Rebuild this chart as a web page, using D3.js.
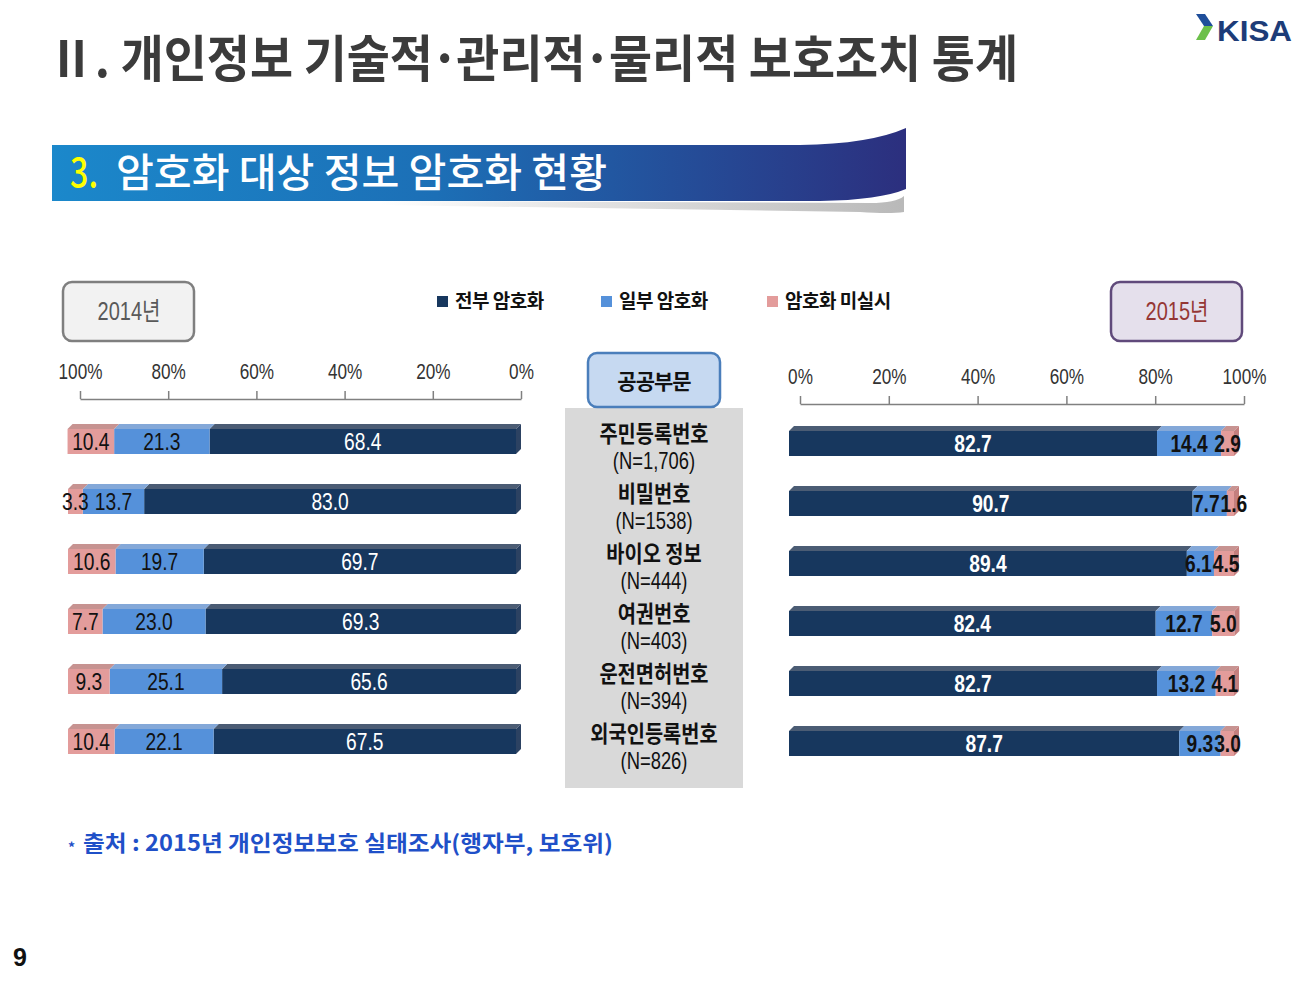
<!DOCTYPE html>
<meta charset="utf-8">
<style>
body { margin: 0; background: #fff; }
svg { display: block; }
.kr { font-family: 'Noto Sans CJK KR', 'Noto Sans', sans-serif; }
.nr { font-family: 'Liberation Sans', Arial, 'Noto Sans CJK KR', sans-serif; }
</style>
<body>
<script src="https://cdnjs.cloudflare.com/ajax/libs/d3/7.8.5/d3.min.js"></script>
<script>
// 공공부문 암호화 현황 (2014 vs 2015)
var categories = ["주민등록번호", "비밀번호", "바이오 정보", "여권번호", "운전면허번호", "외국인등록번호"];
var sampleSizes = ["(N=1,706)", "(N=1538)", "(N=444)", "(N=403)", "(N=394)", "(N=826)"];
var seriesNames = ["전부 암호화", "일부 암호화", "암호화 미실시"];
var full2014    = [68.4, 83.0, 69.7, 69.3, 65.6, 67.5];
var partial2014 = [21.3, 13.7, 19.7, 23.0, 25.1, 22.1];
var none2014    = [10.4, 3.3, 10.6, 7.7, 9.3, 10.4];
var full2015    = [82.7, 90.7, 89.4, 82.4, 82.7, 87.7];
var partial2015 = [14.4, 7.7, 6.1, 12.7, 13.2, 9.3];
var none2015    = [2.9, 1.6, 4.5, 5.0, 4.1, 3.0];
var tickValues  = [0, 20, 40, 60, 80, 100];

var keys = ["full", "partial", "none"];
var colors = {
    full:    {front: "#17375e", top: "#4b5c74", side: "#2c4262", text: "#ffffff"},
    partial: {front: "#5591da", top: "#84a8d8", side: "#4a7fc0", text: "#111111"},
    none:    {front: "#e39c9b", top: "#c79391", side: "#c47f7e", text: "#111111"}
};
var BAR_H = 30, DEPTH = 5, SQUEEZE = 0.8;

var svg = d3.select("body").append("svg").attr("width", 1312).attr("height", 981);

// ---- header ----
svg.append("text").attr("class", "kr")
    .attr("x", 48).attr("y", 77)
    .attr("font-size", 50).attr("font-weight", 700).attr("fill", "#3b3b3b")
    .attr("textLength", 970).attr("lengthAdjust", "spacingAndGlyphs")
    .text("Ⅱ. 개인정보 기술적･관리적･물리적 보호조치 통계");

// KISA logo
var logo = svg.append("g");
logo.append("path").attr("d", "M1196,14 L1205,14 L1213,26 L1204,26 Z").attr("fill", "#1f4e9a");
logo.append("path").attr("d", "M1204,26 L1213,26 L1205,40 L1196,40 Z").attr("fill", "#6cc04a");
logo.append("text").attr("class", "nr").attr("x", 1217).attr("y", 41)
    .attr("font-size", 30).attr("font-weight", 700).attr("fill", "#1d3c78")
    .attr("textLength", 75).attr("lengthAdjust", "spacingAndGlyphs").text("KISA");

// banner
var defs = svg.append("defs");
var grad = defs.append("linearGradient").attr("id", "bannerGrad");
grad.append("stop").attr("offset", "0%").attr("stop-color", "#1b88cb");
grad.append("stop").attr("offset", "45%").attr("stop-color", "#1c6fb6");
grad.append("stop").attr("offset", "100%").attr("stop-color", "#2c2f7e");
var shadow = defs.append("linearGradient").attr("id", "shadowGrad");
shadow.append("stop").attr("offset", "0%").attr("stop-color", "#ffffff");
shadow.append("stop").attr("offset", "100%").attr("stop-color", "#8a8a8a");

svg.append("path")
    .attr("d", "M380,201 L870,203 Q896,203 904,196 L904,212 Q890,214 860,212 L380,205 Z")
    .attr("fill", "url(#shadowGrad)").attr("opacity", 0.6);
svg.append("path")
    .attr("d", "M52,145 L800,145 Q870,144 906,128 L906,189 Q880,200 820,201 L52,201 Z")
    .attr("fill", "url(#bannerGrad)");
svg.append("text").attr("class", "kr").attr("x", 70).attr("y", 187)
    .attr("font-size", 40).attr("font-weight", 500).attr("fill", "#ffff00")
    .attr("textLength", 28).attr("lengthAdjust", "spacingAndGlyphs").text("3.");
svg.append("text").attr("class", "kr").attr("x", 116).attr("y", 187)
    .attr("font-size", 40).attr("font-weight", 500).attr("fill", "#ffffff")
    .attr("textLength", 491).attr("lengthAdjust", "spacingAndGlyphs").text("암호화 대상 정보 암호화 현황");

// ---- year boxes ----
function yearBox(x, label, fill, stroke, color) {
    svg.append("rect").attr("x", x).attr("y", 282).attr("width", 131).attr("height", 59)
        .attr("rx", 9).attr("fill", fill).attr("stroke", stroke).attr("stroke-width", 2.5);
    svg.append("text").attr("class", "nr")
        .attr("transform", "translate(" + (x + 66) + ",320) scale(" + SQUEEZE + ",1)")
        .attr("text-anchor", "middle").attr("font-size", 25).attr("fill", color)
        .text(label);
}
yearBox(63, "2014년", "#f2f2f2", "#7f7f7f", "#595959");
yearBox(1111, "2015년", "#e5e0ec", "#604a7b", "#953735");

// ---- legend ----
var legendX = d3.scaleOrdinal().domain(keys).range([437, 601, 767]);
var legend = svg.append("g").selectAll("g").data(keys).join("g")
    .attr("transform", function(d) { return "translate(" + legendX(d) + ",296)"; });
legend.append("rect").attr("width", 11).attr("height", 11)
    .attr("fill", function(d) { return colors[d].front; });
legend.append("text").attr("class", "kr").attr("x", 18).attr("y", 12)
    .attr("font-size", 19).attr("font-weight", 700).attr("fill", "#111")
    .attr("letter-spacing", -0.5)
    .text(function(d, i) { return seriesNames[i]; });

// ---- middle category panel ----
svg.append("rect").attr("x", 565).attr("y", 408).attr("width", 178).attr("height", 380).attr("fill", "#d9d9d9");
svg.append("rect").attr("x", 588).attr("y", 353).attr("width", 132).attr("height", 54)
    .attr("rx", 9).attr("fill", "#c6d9f1").attr("stroke", "#4a7ebb").attr("stroke-width", 2.5);
svg.append("text").attr("class", "kr").attr("x", 654).attr("y", 389)
    .attr("text-anchor", "middle").attr("font-size", 21).attr("font-weight", 700)
    .attr("fill", "#111").attr("letter-spacing", -1).text("공공부문");

var yMid = d3.scalePoint().domain(categories).range([440, 740]);
var catG = svg.append("g").selectAll("g").data(categories).join("g")
    .attr("transform", function(d) { return "translate(654," + yMid(d) + ")"; });
catG.append("text").attr("class", "kr").attr("y", 2).attr("transform", "scale(0.86,1)")
    .attr("text-anchor", "middle").attr("font-size", 23).attr("font-weight", 600)
    .attr("fill", "#111").text(function(d) { return d; });
catG.append("text").attr("class", "nr").attr("transform", "translate(0,29) scale(" + SQUEEZE + ",1)")
    .attr("text-anchor", "middle").attr("font-size", 23).attr("fill", "#111")
    .text(function(d, i) { return sampleSizes[i]; });

// ---- bar charts ----
function rows(full, partial, none) {
    return categories.map(function(c, i) {
        return {cat: c, full: full[i], partial: partial[i], none: none[i]};
    });
}
var stack = d3.stack().keys(keys);

function drawChart(data, axisScale, barScale, yScale, axisY, bold) {
    var g = svg.append("g");
    var ax = g.append("g").attr("transform", "translate(0," + axisY + ")")
        .call(d3.axisTop(axisScale).tickValues(tickValues)
            .tickFormat(function(d) { return d + "%"; })
            .tickSize(8).tickSizeOuter(0).tickPadding(12));
    ax.selectAll("path,line").attr("stroke", "#808080").attr("stroke-width", 1.5);
    ax.selectAll("text").attr("class", "nr").attr("font-size", 22).attr("fill", "#333")
        .attr("transform", "scale(0.78,1)");

    var series = stack(data);
    function seg(d) {
        var a = barScale(d[0]), b = barScale(d[1]);
        return {xa: Math.min(a, b), xb: Math.max(a, b), yt: yScale(d.data.cat) - BAR_H / 2};
    }
    var layers = g.selectAll("g.layer").data(series).join("g").attr("class", "layer");
    layers.selectAll("path.top").data(function(s) { return s; }).join("path").attr("class", "top")
        .attr("fill", function() { return colors[this.parentNode.__data__.key].top; })
        .attr("d", function(d) {
            var s = seg(d);
            return "M" + s.xa + "," + (s.yt + DEPTH) + "L" + (s.xa + DEPTH) + "," + s.yt +
                   "L" + (s.xb + DEPTH) + "," + s.yt + "L" + s.xb + "," + (s.yt + DEPTH) + "Z";
        });
    layers.selectAll("rect").data(function(s) { return s; }).join("rect")
        .attr("fill", function() { return colors[this.parentNode.__data__.key].front; })
        .attr("x", function(d) { return seg(d).xa; })
        .attr("y", function(d) { return seg(d).yt + DEPTH; })
        .attr("width", function(d) { var s = seg(d); return s.xb - s.xa; })
        .attr("height", BAR_H - DEPTH);

    // side face at the outer right end of each bar
    var ends = data.map(function(r, i) {
        var best = null;
        series.forEach(function(s) {
            var sg = seg(s[i]);
            if (sg.xb - sg.xa > 0.5 && (!best || sg.xb > best.xb)) best = {xb: sg.xb, yt: sg.yt, key: s.key};
        });
        return best;
    });
    g.selectAll("path.side").data(ends).join("path").attr("class", "side")
        .attr("fill", function(d) { return colors[d.key].side; })
        .attr("d", function(d) {
            return "M" + d.xb + "," + (d.yt + DEPTH) + "L" + (d.xb + DEPTH) + "," + d.yt +
                   "L" + (d.xb + DEPTH) + "," + (d.yt + BAR_H - DEPTH) + "L" + d.xb + "," + (d.yt + BAR_H) + "Z";
        });

    // value labels on top of everything
    var labels = g.append("g").selectAll("g").data(series).join("g");
    var texts = labels.selectAll("text").data(function(s) { return s; }).join("text")
        .attr("class", "nr")
        .attr("dy", "0.36em").attr("text-anchor", "middle")
        .attr("font-size", 24).attr("font-weight", bold ? 700 : 400)
        .attr("fill", function() { return colors[this.parentNode.__data__.key].text; })
        .text(function(d) { return (d[1] - d[0]).toFixed(1); })
        .each(function(d) {
            var s = seg(d);
            this._cx = (s.xa + s.xb) / 2;
            this._cy = s.yt + DEPTH + (BAR_H - DEPTH) / 2;
            this._w = this.getComputedTextLength() * SQUEEZE;
        });

    // nudge neighbouring labels apart where narrow segments crowd them
    categories.forEach(function(c) {
        var row = texts.filter(function(d) { return d.data.cat === c; }).nodes()
            .sort(function(a, b) { return a._cx - b._cx; });
        for (var k = 1; k < row.length; k++) {
            var prev = row[k - 1], cur = row[k];
            var gap = (prev._cx + prev._w / 2 + 1) - (cur._cx - cur._w / 2);
            if (gap > 0) { prev._cx -= gap / 2; cur._cx += gap / 2; }
        }
    });
    texts.attr("transform", function() {
        return "translate(" + this._cx + "," + this._cy + ") scale(" + SQUEEZE + ",1)";
    });
}

var axis2014 = d3.scaleLinear().domain([0, 100]).range([521, 80]);
var bars2014 = d3.scaleLinear().domain([0, 100]).range([516, 68]);
var y2014 = d3.scalePoint().domain(categories).range([439, 739]);
drawChart(rows(full2014, partial2014, none2014), axis2014, bars2014, y2014, 399, false);

var axis2015 = d3.scaleLinear().domain([0, 100]).range([800, 1244]);
var bars2015 = d3.scaleLinear().domain([0, 100]).range([789, 1234]);
var y2015 = d3.scalePoint().domain(categories).range([441, 741]);
drawChart(rows(full2015, partial2015, none2015), axis2015, bars2015, y2015, 404, true);

// ---- footer ----
svg.append("text").attr("class", "kr").attr("x", 68).attr("y", 853)
    .attr("font-size", 14).attr("font-weight", 700).attr("fill", "#1f50c8").text("*");
svg.append("text").attr("class", "kr").attr("x", 83).attr("y", 851)
    .attr("font-size", 22).attr("font-weight", 700).attr("fill", "#1f50c8")
    .attr("textLength", 530).attr("lengthAdjust", "spacingAndGlyphs")
    .text("출처 : 2015년 개인정보보호 실태조사(행자부, 보호위)");
svg.append("text").attr("x", 13).attr("y", 966)
    .attr("font-family", "Liberation Sans, Arial, sans-serif")
    .attr("font-size", 25).attr("font-weight", 700).attr("fill", "#111").text("9");
</script>
</body>
